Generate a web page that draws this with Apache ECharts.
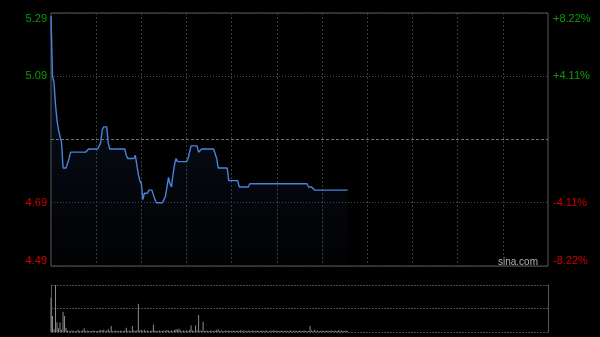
<!DOCTYPE html>
<html>
<head>
<meta charset="utf-8">
<script src="https://cdn.jsdelivr.net/npm/echarts@6/dist/echarts.min.js"></script>
<style>html,body{margin:0;padding:0;background:#000;}#c{width:600px;height:337px;}</style>
</head>
<body>
<div id="c"></div>
<script>
// ---- data ----
var prevClose = 4.89;
var priceTicks = [4.49, 4.69, 5.09, 5.29];
var pctTicks = [-8.22, -4.11, 4.11, 8.22];
var priceMin = 4.49, priceMax = 5.29;
var prices = [
5.28,5.09,5.07,5.00,4.95,4.92,4.90,4.88,4.80,4.80,
4.80,4.80,4.83,4.85,4.85,4.85,4.85,4.85,4.85,4.85,
4.85,4.85,4.85,4.85,4.85,4.86,4.86,4.86,4.86,4.86,
4.86,4.86,4.86,4.88,4.92,4.93,4.93,4.93,4.88,4.86,
4.86,4.86,4.86,4.86,4.86,4.86,4.86,4.86,4.86,4.86,
4.84,4.83,4.83,4.83,4.83,4.83,4.84,4.84,4.78,4.76,
4.75,4.70,4.72,4.72,4.72,4.73,4.73,4.73,4.73,4.70,
4.69,4.69,4.69,4.69,4.69,4.70,4.71,4.71,4.77,4.75,
4.74,4.78,4.81,4.83,4.82,4.82,4.82,4.82,4.82,4.82,
4.82,4.83,4.85,4.87,4.87,4.87,4.87,4.87,4.85,4.85,
4.86,4.86,4.86,4.86,4.86,4.86,4.86,4.86,4.86,4.86,
4.83,4.80,4.80,4.80,4.80,4.80,4.80,4.80,4.76,4.76,
4.76,4.76,4.76,4.76,4.76,4.74,4.74,4.74,4.74,4.74,
4.74,4.74,4.75,4.75,4.75,4.75,4.75,4.75,4.75,4.75,
4.75,4.75,4.75,4.75,4.75,4.75,4.75,4.75,4.75,4.75,
4.75,4.75,4.75,4.75,4.75,4.75,4.75,4.75,4.75,4.75,
4.75,4.75,4.75,4.75,4.75,4.75,4.75,4.75,4.75,4.75,
4.75,4.74,4.74,4.74,4.74,4.73,4.73,4.73,4.73,4.73,
4.73,4.73,4.73,4.73,4.73,4.73,4.73,4.73,4.73,4.73,
4.73,4.73,4.73,4.73,4.73,4.73,4.73,4.73
];
var volumes = [
73,34,6,100,21,8,20,5,43,34,
9,3,2,2,3,2,2,2,5,2,
2,3,8,2,3,2,2,2,3,2,
2,2,3,4,3,5,2,3,6,2,
13,2,2,3,2,2,3,2,2,3,
9,2,3,2,13,3,2,3,60,3,
4,2,5,2,3,2,2,3,16,3,
2,2,3,2,2,3,2,4,3,2,
3,2,4,6,5,7,3,2,3,2,
3,2,4,14,3,2,14,3,36,3,
2,22,2,3,2,2,3,2,2,3,
4,6,2,3,2,2,3,2,3,2,
2,3,2,2,3,2,4,2,3,2,
2,3,2,2,3,2,2,3,2,2,
3,2,2,3,2,2,3,2,4,2,
3,2,2,3,2,2,3,2,2,3,
2,2,3,2,2,3,2,2,3,2,
2,2,13,3,2,5,2,3,2,2,
3,2,2,3,2,2,3,2,2,3,
2,4,2,3,2,2,3,2
];
// trading-minute categories: 09:30-12:00, 13:00-16:00
var times = [];
(function(){
  function fmt(m){var h=Math.floor(m/60),mm=m%60;return (h<10?'0':'')+h+':'+(mm<10?'0':'')+mm;}
  for (var m=570; m<=720; m++) times.push(fmt(m));
  for (var m2=781; m2<=960; m2++) times.push(fmt(m2));
})();

var GREEN = '#0a9e0a', RED = '#d00000';
var chart = echarts.init(document.getElementById('c'), null, {renderer:'canvas'});
chart.setOption({
  backgroundColor: '#000',
  animation: false,
  grid: [
    {left: 51, top: 13, width: 497, height: 253, show: true, borderColor: '#5a5a5a', borderWidth: 1, backgroundColor: 'transparent'},
    {left: 51, top: 285, width: 497, height: 47}
  ],
  xAxis: [
    {type: 'category', gridIndex: 0, data: times, boundaryGap: false,
     axisLine: {show: false}, axisTick: {show: false}, axisLabel: {show: false},
     splitLine: {show: true, interval: function(i){return i % 30 === 0 && i > 0 && i < 330;},
       lineStyle: {color: '#3c3c3c', type: [2, 2], width: 1}}},
    {type: 'category', gridIndex: 1, data: times, boundaryGap: false,
     axisLine: {show: false}, axisTick: {show: false}, axisLabel: {show: false}, splitLine: {show: false}}
  ],
  yAxis: [
    {type: 'value', gridIndex: 0, min: priceMin, max: priceMax, position: 'left',
     axisLine: {show: false}, axisTick: {show: false, customValues: priceTicks},
     axisLabel: {customValues: priceTicks, margin: 4, fontSize: 11, fontFamily: 'Liberation Sans, Arial',
       verticalAlignMaxLabel: 'top', verticalAlignMinLabel: 'bottom',
       formatter: function(v){return v.toFixed(2);},
       color: function(v){return v > prevClose ? GREEN : RED;}},
     splitLine: {show: true, lineStyle: {color: '#4a4a4a', type: [1, 2], width: 1}}},
    {type: 'value', gridIndex: 0, min: -8.22, max: 8.22, position: 'right',
     axisLine: {show: false}, axisTick: {show: false, customValues: pctTicks},
     axisLabel: {customValues: pctTicks, margin: 5, fontSize: 11, fontFamily: 'Liberation Sans, Arial',
       verticalAlignMaxLabel: 'top', verticalAlignMinLabel: 'bottom',
       formatter: function(v){return (v > 0 ? '+' : '') + v.toFixed(2) + '%';},
       color: function(v){return v > 0 ? GREEN : RED;}},
     splitLine: {show: false}},
    {type: 'value', gridIndex: 1, min: 0, max: 100, interval: 50, position: 'left',
     axisLine: {show: true, lineStyle: {color: '#5a5a5a'}}, axisTick: {show: false}, axisLabel: {show: false},
     splitLine: {show: true, lineStyle: {color: '#4a4a4a', type: [2, 1], width: 1}}},
    {type: 'value', gridIndex: 1, min: 0, max: 100, position: 'right',
     axisLine: {show: true, lineStyle: {color: '#5a5a5a'}}, axisTick: {show: false}, axisLabel: {show: false},
     splitLine: {show: false}}
  ],
  series: [
    {type: 'line', xAxisIndex: 0, yAxisIndex: 0, data: prices, showSymbol: false, symbol: 'none',
     lineStyle: {color: '#4a82dc', width: 1.4},
     areaStyle: {origin: 'start', color: new echarts.graphic.LinearGradient(0, 0, 0, 1, [
       {offset: 0, color: 'rgba(45,85,150,0.42)'},
       {offset: 1, color: 'rgba(15,30,60,0.10)'}])},
     markLine: {silent: true, symbol: 'none', label: {show: false},
       lineStyle: {color: '#6e6e6e', type: [3, 2], width: 1},
       data: [{yAxis: prevClose}]}},
    {type: 'bar', xAxisIndex: 1, yAxisIndex: 2, data: volumes, barWidth: 1,
     itemStyle: {color: '#8c8c8c'}}
  ],
  graphic: [
    {type: 'text', right: 62, top: 257, style: {text: 'sina.com', fill: '#b0b0b0', fontSize: 10, fontFamily: 'Liberation Sans, Arial'}}
  ]
});
</script>
</body>
</html>
